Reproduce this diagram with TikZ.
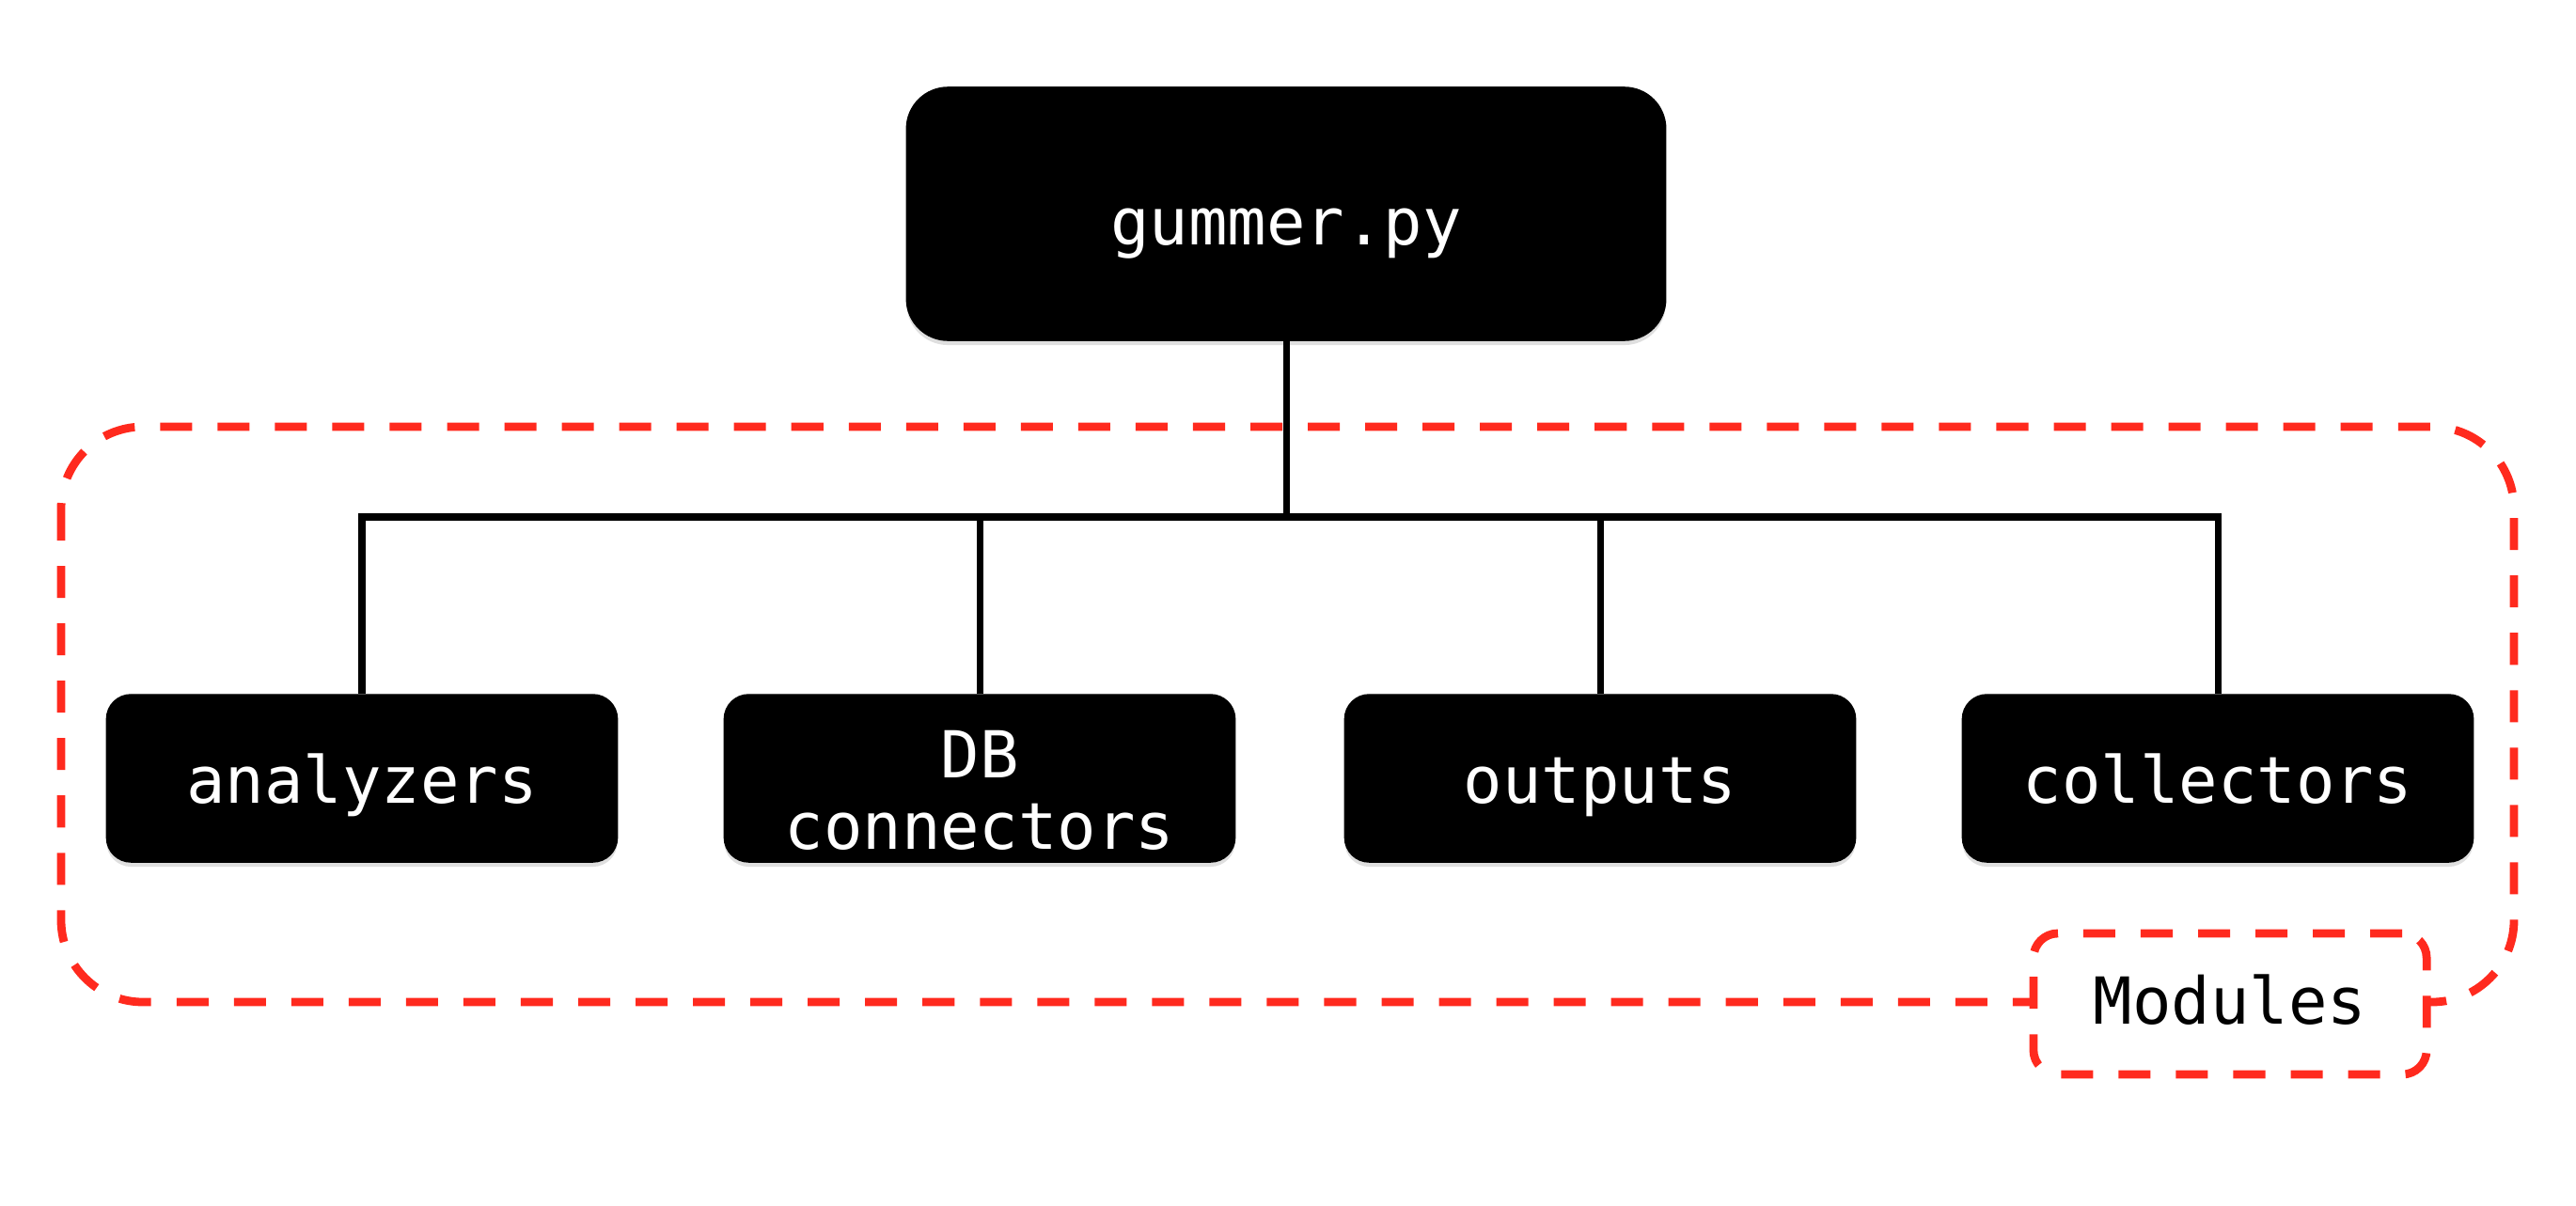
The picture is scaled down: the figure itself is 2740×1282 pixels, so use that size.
\documentclass[tikz,border=0pt]{standalone}
\usepackage{fontspec}
\setmonofont{DejaVu Sans Mono}
\usetikzlibrary{shadows}
\definecolor{modred}{RGB}{255,42,30}
\begin{document}
\begin{tikzpicture}[x=0.01cm,y=-0.01cm,
  blackbox/.style={draw=black, fill=black, text=white, rounded corners=0.26cm,
    minimum width=5.43cm, minimum height=1.78cm, inner sep=0pt, align=center,
    font=\ttfamily\fontsize{19.6}{21.5}\selectfont,
    drop shadow={shadow xshift=0pt, shadow yshift=-0.05cm, opacity=0.25}},
  onebox/.style={blackbox, text height=19.6pt, text depth=4.7pt},
  topbox/.style={blackbox, text height=23.5pt, text depth=4.7pt, rounded corners=0.44cm, minimum width=8.07cm, minimum height=2.69cm},
  link/.style={draw=black, line width=2pt},
  reddash/.style={draw=modred, line width=2.5pt, dash pattern=on 0.34cm off 0.27cm},
]
\useasboundingbox (0,0) rectangle (2740,1282);
\draw[reddash, rounded corners=0.87cm] (65,454) rectangle (2674,1066);
\node[topbox] (g) at (1368,227.5) {gummer.py};
\node[onebox] (an) at (385,828) {analyzers};
\node[blackbox] (db) at (1042,828) {\rule{0pt}{1.1em}DB\\connectors};
\node[onebox] (ou) at (1702,828) {outputs};
\node[onebox] (co) at (2359,828) {collectors};
\coordinate (bus) at (1368,550);
\draw[link] (g.south) -- (bus);
\draw[link] (an.north) |- (bus);
\draw[link] (db.north) |- (bus);
\draw[link] (ou.north) |- (bus);
\draw[link] (co.north) |- (bus);
\node[reddash, fill=white, rounded corners=0.26cm, minimum width=4.18cm, minimum height=1.5cm,
  inner sep=0pt, text height=16.7pt, text depth=4.7pt, font=\ttfamily\fontsize{19.6}{21.5}\selectfont] (mod) at (2372,1068) {Modules};
\end{tikzpicture}
\end{document}
